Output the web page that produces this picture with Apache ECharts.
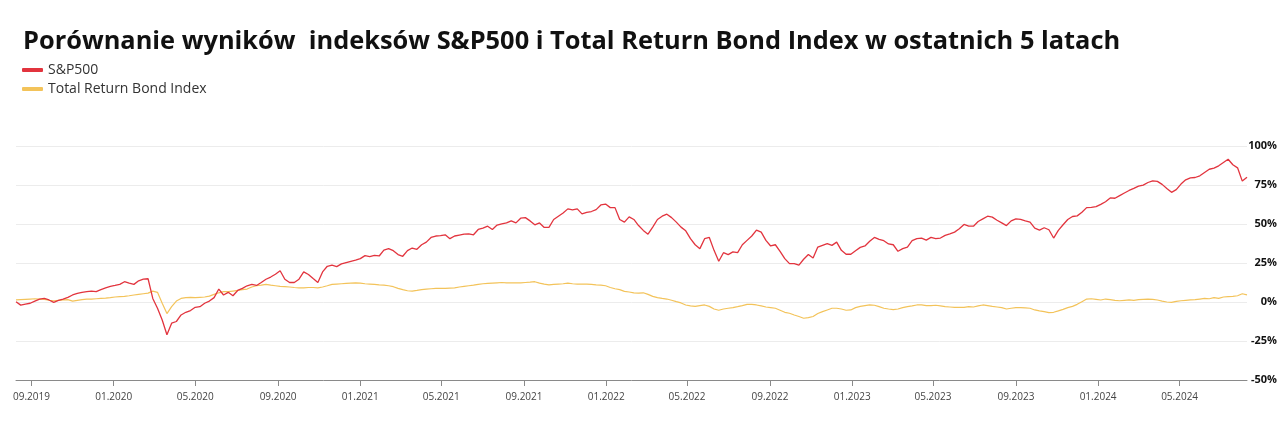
<!DOCTYPE html>
<html>
<head>
<meta charset="utf-8">
<script src="https://cdn.jsdelivr.net/npm/echarts@6/dist/echarts.min.js"></script>
<style>
html,body{margin:0;padding:0;background:#fff;}
#chart{width:1280px;height:435px;}
</style>
</head>
<body>
<div id="chart"></div>
<script>
// ---- data (weekly observations, % change since start) ----
const startDate = [2019, 8, 9];   // first weekly observation
const stepDays = 7;

const sp500 = [
  0.2,-2,-1.3,-0.8,0.6,1.9,2.3,1.3,-0.2,1,
  1.9,3,4.5,5.5,6.2,6.6,7,6.6,7.9,9.1,
  10,10.6,11.3,13,12.1,11.3,13.6,14.6,14.9,2.3,
  -4,-11.5,-21,-13.6,-12.5,-8.3,-6.6,-5.5,-3.4,-3,
  -0.8,0.6,2.8,8.3,4.5,6.2,4,7.4,8.7,10.4,
  11.3,10.6,12.5,14.6,16,17.8,20,14.6,12.5,12.5,
  14.6,19.3,17.6,15,12.5,
  19.3,22.9,23.6,22.7,24.4,
  25.3,26.1,26.8,27.8,29.7,29.1,29.9,29.5,33.3,34.2,
  32.9,30.4,29.3,32.9,34.6,33.8,36.7,38.4,41.4,42.3,
  42.5,43.1,40.6,42.3,42.9,43.5,43.7,43.1,46.5,47.3,
  48.6,46.5,49.3,50.1,50.7,52,50.7,53.7,54.1,52,
  49.5,50.7,47.8,47.8,52.9,55,57.1,59.7,59,59.7,
  56.5,57.5,58,59.2,62.2,62.8,60.5,60.5,52.9,51.2,
  54.6,52.9,49,45.9,43.5,48,52.9,55,56.3,54.1,
  51.2,48,45.6,40.6,36.7,34.2,40.6,41.4,33.1,26.1,
  31.6,30.4,32.1,31.6,36.7,39.5,42.3,46.1,44.8,39.5,
  35.9,36.7,32.5,27.8,24.6,24.6,23.6,27.4,30.4,28.2,
  35.2,36.3,37.4,36.3,38.4,33.1,30.6,30.6,32.9,35,
  35.9,38.9,41.4,40.1,39.3,37.2,36.7,32.5,34.2,35.2,
  39.3,40.6,41,39.7,41.4,40.6,41,42.7,43.7,44.8,
  46.9,49.7,48.6,48.6,51.6,53.3,55,54.4,52.4,50.7,
  49,52,53.3,52.9,52,51.2,47.3,46.1,47.6,46.3,
  41,45.9,49.5,52.9,54.8,55.2,57.5,60.5,60.7,61.1,
  62.6,64.3,66.7,66.5,68.2,69.9,71.5,72.8,74.3,74.9,
  76.6,77.7,77.3,75.4,72.8,70.3,72,75.6,78.3,79.6,
  79.8,80.9,83,85.1,85.8,87.3,89.4,91.5,88,86,
  77.5,80
];

const bond = [
  1.3,1.5,1.7,1.9,2.1,1.9,1.7,1.1,0.8,1.1,
  1.3,1.5,0.6,1.1,1.5,1.9,1.9,2.1,2.3,2.5,
  2.8,3.2,3.4,3.6,4,4.5,4.9,5.3,5.7,7,
  6.2,-0.8,-7.4,-3,0.6,2.3,2.8,3,2.8,3,
  3.2,3.8,4.9,5.9,6.6,6.6,7,7.4,7.9,8.3,
  9.6,10.4,10.8,11.3,10.8,10.4,10,9.8,9.6,9.3,
  9.1,9.1,9.3,9.3,9.1,
  9.6,10.4,11.3,11.5,11.7,
  11.9,12.1,12.3,12.1,11.7,11.5,11.3,11,10.8,10.4,
  9.8,8.7,7.9,7.2,7,7.4,7.9,8.3,8.5,8.7,
  8.7,8.7,8.9,9.1,9.6,10,10.4,10.8,11.3,11.7,
  11.9,12.1,12.3,12.5,12.3,12.3,12.3,12.3,12.5,12.7,
  13,12.1,11.5,11,11.3,11.5,11.7,12.1,11.7,11.5,
  11.5,11.5,11.3,11,10.8,10.4,9.3,8.5,7.9,6.8,
  6.4,5.9,5.7,5.9,4.9,3.6,2.8,2.3,1.9,1.1,
  0.2,-0.6,-1.9,-2.5,-2.8,-2.3,-1.9,-2.8,-4.5,-5.3,
  -4.5,-4,-3.6,-3,-2.3,-1.5,-1.5,-1.9,-2.5,-3.2,
  -3.6,-4,-5.3,-6.6,-7.2,-8.3,-9.3,-10.4,-10,-9.3,
  -7.4,-6.2,-5.1,-4,-4,-4.5,-5.3,-5.1,-3.6,-2.8,
  -2.3,-1.9,-2.1,-3,-4,-4.5,-4.9,-4.5,-3.6,-3,
  -2.5,-1.9,-1.9,-2.3,-2.3,-2.1,-2.5,-3,-3.2,-3.4,
  -3.4,-3.4,-3,-3.2,-2.5,-1.9,-2.3,-2.8,-3.2,-3.6,
  -4.5,-4,-3.6,-3.6,-3.8,-4,-5.1,-5.7,-6.2,-6.8,
  -6.6,-5.7,-4.7,-3.6,-2.8,-1.5,0.2,1.9,2.1,1.7,
  1.3,1.9,1.5,1.1,0.8,1.1,1.3,1.1,1.5,1.7,
  1.9,1.7,1.3,0.6,0,-0.2,0.4,0.8,1.1,1.3,
  1.5,1.9,2.3,2.1,2.8,2.3,3.2,3.4,3.6,4,
  5.3,4.6
];

const xTickLabels = ['09.2019','01.2020','05.2020','09.2020','01.2021','05.2021','09.2021','01.2022',
  '05.2022','09.2022','01.2023','05.2023','09.2023','01.2024','05.2024'];
const yTicks = [-50, -25, 0, 25, 50, 75, 100];

const titleText = 'Porównanie wyników  indeksów S&P500 i Total Return Bond Index w ostatnich 5 latach';
const seriesNames = ['S&P500', 'Total Return Bond Index'];

// ---- build ----
const DAY = 86400000;
const t0 = new Date(startDate[0], startDate[1] - 1, startDate[2]).getTime();
const dates = sp500.map((_, i) => t0 + i * stepDays * DAY);
const tickTimes = xTickLabels.map(s => {
  const [m, y] = s.split('.').map(Number);
  return new Date(y, m - 1, 1).getTime();
});
const labelFor = v => {
  const k = tickTimes.indexOf(v);
  return k >= 0 ? xTickLabels[k] : '';
};

const chart = echarts.init(document.getElementById('chart'), null, {renderer: 'canvas'});
chart.setOption({
  backgroundColor: '#ffffff',
  animation: false,
  title: {
    text: titleText,
    left: 18, top: 24,
    textStyle: {fontFamily: 'Open Sans', fontWeight: 700, fontSize: 25.4, color: '#111'}
  },
  legend: {
    data: seriesNames,
    orient: 'vertical',
    left: 17, top: 58,
    icon: 'roundRect',
    itemWidth: 21, itemHeight: 4,
    itemGap: 5,
    textStyle: {fontFamily: 'Open Sans', fontSize: 14, color: '#333'}
  },
  grid: {left: 16, right: 32, top: 146, bottom: 55, containLabel: false},
  xAxis: {
    type: 'value',
    min: dates[0],
    max: dates[dates.length - 1],
    axisLine: {show: true, onZero: false, lineStyle: {color: '#8a8a8a', width: 1}},
    axisTick: {show: true, length: 6, lineStyle: {color: '#8a8a8a'}, customValues: tickTimes},
    axisLabel: {
      customValues: tickTimes,
      margin: 12,
      fontFamily: 'Open Sans', fontSize: 10, color: '#444',
      formatter: v => labelFor(v)
    },
    splitLine: {show: false}
  },
  yAxis: {
    type: 'value',
    position: 'right',
    min: yTicks[0], max: yTicks[yTicks.length - 1], interval: 25,
    axisLine: {show: false},
    axisTick: {show: false},
    axisLabel: {
      align: 'right', margin: 30,
      fontFamily: 'Open Sans', fontWeight: 700, fontSize: 11, color: '#111',
      formatter: '{value}%'
    },
    splitLine: {show: true, lineStyle: {color: '#ececec', width: 1}}
  },
  series: [
    {
      name: seriesNames[1], type: 'line', showSymbol: false, symbol: 'none',
      color: '#f3c35a',
      lineStyle: {width: 1.2, color: '#f3c35a'},
      data: bond.map((v, i) => [dates[i], v]), z: 2
    },
    {
      name: seriesNames[0], type: 'line', showSymbol: false, symbol: 'none',
      color: '#e2343e',
      lineStyle: {width: 1.3, color: '#e2343e'},
      data: sp500.map((v, i) => [dates[i], v]), z: 3
    }
  ]
});
</script>
</body>
</html>
